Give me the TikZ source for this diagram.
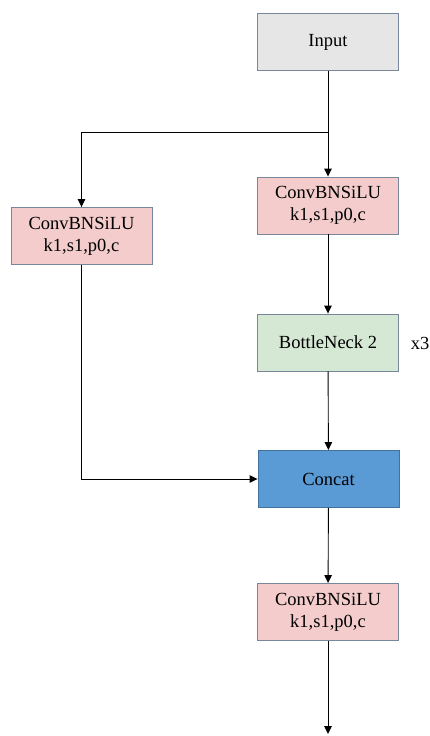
\documentclass[tikz,border=0pt]{standalone}
\usepackage{fontspec}
\setmainfont{Liberation Serif}
\usetikzlibrary{arrows.meta}
\definecolor{edgegray}{HTML}{77869A}
\definecolor{inputfill}{HTML}{E6E6E6}
\definecolor{convfill}{HTML}{F4CCCC}
\definecolor{neckfill}{HTML}{D5E8D4}
\definecolor{catfill}{HTML}{5B9BD5}
\definecolor{catedge}{HTML}{41719C}
\tikzset{
  block/.style={draw=edgegray, line width=0.9pt, minimum width=141pt, minimum height=57pt,
    inner sep=0pt, align=center, font=\fontsize{18.5}{22}\selectfont},
  flow/.style={line width=0.9pt, -{Triangle[length=8pt,width=7.5pt]}},
  plain/.style={line width=0.9pt}
}
\begin{document}
\begin{tikzpicture}[x=1pt,y=-1pt]
\useasboundingbox (0,0) rectangle (429,736);
\node[block, fill=inputfill] (in) at (328,42) {Input};
\node[block, fill=convfill] (c1) at (328,205.5) {ConvBNSiLU\\k1,s1,p0,c};
\node[block, fill=convfill] (c2) at (81.5,236) {ConvBNSiLU\\k1,s1,p0,c};
\node[block, fill=neckfill] (bn) at (328,342.5) {BottleNeck 2};
\node[font=\fontsize{18.5}{22}\selectfont] (rep) at (420,343) {x3};
\node[block, fill=catfill, draw=catedge] (cat) at (328.5,479) {Concat};
\node[block, fill=convfill] (c3) at (328,612) {ConvBNSiLU\\k1,s1,p0,c};
\coordinate (split) at (328,132);
\coordinate (out) at (328,734);
\draw[flow] (in) -- (c1);
\draw[flow] (split) -| (c2);
\draw[flow] (c1) -- (bn);
\draw[flow] (bn) -- (cat);
\draw[flow] (c2) |- (cat);
\draw[flow] (cat) -- (c3);
\draw[flow] (c3) -- (out);
\end{tikzpicture}
\end{document}
